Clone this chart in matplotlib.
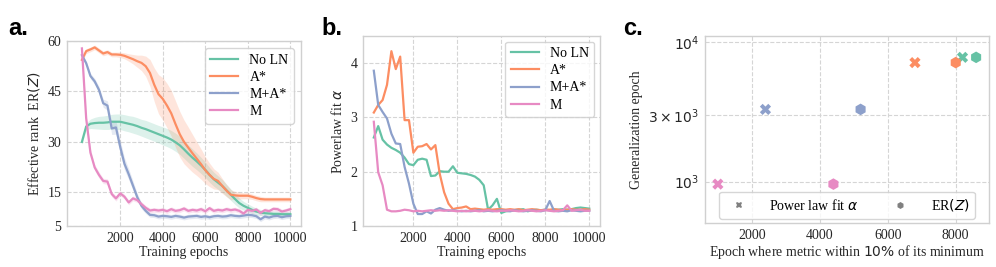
import numpy as np
import matplotlib
matplotlib.use("Agg")
import matplotlib.pyplot as plt
from matplotlib.lines import Line2D

plt.rcParams["font.family"] = ["Liberation Serif", "DejaVu Serif"]
plt.rcParams["mathtext.fontset"] = "dejavusans"
plt.rcParams["font.size"] = 10

# --- data -----------------------------------------------------------------
LABELS = ["No LN", "A*", "M+A*", "M"]
COLORS = ["#66c2a5", "#fc8d62", "#8da0cb", "#e78ac3"]
EPOCHS = np.arange(200, 10001, 200)

# panel a: effective rank ER(Z), mean and spread
er_noln = [30.0, 34.6, 35.4, 35.6, 35.7, 35.7, 35.8, 36.0, 36.0, 36.0,
           35.7, 35.4, 35.1, 34.7, 34.2, 33.8, 33.3, 32.8, 32.3, 31.8,
           31.3, 30.7, 29.9, 29.0, 27.8, 26.5, 25.3, 24.2, 23.0, 21.7,
           20.2, 18.9, 17.9, 16.9, 15.6, 14.3, 13.0, 11.8, 11.0, 10.4,
           9.8, 9.3, 9.0, 8.8, 8.7, 8.6, 8.6, 8.5, 8.5, 8.5]
er_a = [54.4, 57.0, 57.5, 58.1, 57.2, 56.3, 56.7, 56.0, 56.0, 55.9,
        55.6, 55.1, 54.6, 54.0, 53.5, 52.5, 50.5, 47.0, 44.2, 42.8,
        40.8, 38.5, 35.3, 32.3, 30.0, 28.3, 26.6, 25.0, 23.4, 21.6,
        20.2, 19.0, 18.4, 16.9, 15.5, 14.3, 14.1, 14.0, 14.0, 14.0,
        13.7, 13.3, 13.0, 12.9, 12.9, 12.9, 12.9, 12.9, 12.9, 12.9]
er_ma = [55.8, 53.4, 49.6, 48.0, 45.5, 41.5, 40.8, 34.0, 34.3, 28.5,
         23.5, 20.4, 17.0, 13.6, 11.0, 9.5, 8.3, 8.2, 7.8, 8.0,
         7.9, 7.7, 8.0, 7.8, 7.5, 7.8, 7.9, 8.0, 7.7, 7.9,
         7.6, 7.9, 8.0, 7.8, 7.9, 8.2, 8.0, 7.9, 8.1, 8.3,
         8.2, 7.9, 7.0, 7.8, 7.5, 7.9, 8.0, 7.6, 7.9, 8.0]
er_m = [57.8, 37.0, 26.8, 22.4, 20.2, 18.4, 18.2, 14.5, 13.2, 14.7,
        13.7, 12.0, 13.2, 12.7, 11.5, 10.4, 9.6, 9.8, 9.6, 9.8,
        9.4, 10.0, 9.5, 9.7, 10.2, 9.5, 9.8, 9.6, 10.0, 9.4,
        10.3, 9.5, 9.8, 9.6, 10.0, 9.7, 9.9, 9.5, 8.7, 9.8,
        9.5, 9.9, 8.9, 9.7, 9.4, 10.1, 10.0, 9.3, 9.6, 10.0]

sd_noln = [0.6, 1.0, 1.4, 1.7, 1.9, 2.0, 2.1, 2.2, 2.3, 2.3,
           2.4, 2.4, 2.5, 2.5, 2.5, 2.6, 2.6, 2.6, 2.6, 2.7,
           2.7, 2.7, 2.7, 2.7, 2.7, 2.6, 2.6, 2.5, 2.4, 2.3,
           2.2, 2.1, 2.0, 1.9, 1.8, 1.7, 1.6, 1.5, 1.3, 1.2,
           1.1, 1.0, 0.9, 0.8, 0.8, 0.8, 0.8, 0.8, 0.8, 0.8]
sd_a = [0.6, 0.7, 0.7, 0.7, 0.7, 0.7, 0.7, 0.7, 0.7, 0.8,
        0.9, 1.1, 1.4, 1.8, 2.3, 3.0, 4.0, 5.0, 5.8, 6.3,
        6.6, 6.8, 6.9, 6.8, 6.5, 6.1, 5.6, 5.0, 4.5, 4.0,
        3.5, 3.0, 2.6, 2.2, 1.8, 1.5, 1.2, 1.0, 0.9, 0.9,
        0.8, 0.8, 0.8, 0.7, 0.7, 0.7, 0.7, 0.7, 0.7, 0.7]
sd_ma = [0.6, 0.7, 0.8, 0.9, 1.0, 1.2, 1.4, 1.8, 2.0, 2.0,
         1.8, 1.6, 1.4, 1.1, 0.9, 0.8, 0.7, 0.7, 0.7, 0.7,
         0.7, 0.7, 0.7, 0.7, 0.7, 0.7, 0.7, 0.7, 0.7, 0.7,
         0.7, 0.7, 0.7, 0.7, 0.7, 0.7, 0.7, 0.7, 0.7, 0.7,
         0.7, 0.7, 0.7, 0.7, 0.7, 0.7, 0.7, 0.7, 0.7, 0.7]
sd_m = [1.5, 1.2, 1.0, 0.9, 0.9, 0.8, 0.8, 0.8, 0.8, 0.7,
        0.7, 0.7, 0.7, 0.7, 0.7, 0.7, 0.7, 0.7, 0.7, 0.7,
        0.7, 0.7, 0.7, 0.7, 0.7, 0.7, 0.7, 0.7, 0.7, 0.7,
        0.7, 0.7, 0.7, 0.7, 0.7, 0.7, 0.7, 0.7, 0.7, 0.7,
        0.7, 0.7, 0.7, 0.7, 0.7, 0.7, 0.7, 0.7, 0.7, 0.7]

# panel b: power law fit alpha
al_noln = [2.63, 2.84, 2.59, 2.50, 2.44, 2.40, 2.35, 2.26, 2.14, 2.12,
           2.22, 2.24, 2.22, 1.92, 1.93, 2.01, 2.00, 2.00, 2.10, 1.98,
           1.97, 1.96, 1.94, 1.91, 1.85, 1.75, 1.30, 1.38, 1.50, 1.24,
           1.27, 1.28, 1.29, 1.30, 1.31, 1.27, 1.29, 1.30, 1.29, 1.30,
           1.29, 1.30, 1.30, 1.31, 1.30, 1.31, 1.33, 1.34, 1.33, 1.32]
al_a = [3.09, 3.23, 3.32, 3.60, 4.22, 3.89, 4.12, 2.95, 2.95, 2.35,
        2.46, 2.47, 2.51, 2.41, 2.49, 1.96, 1.62, 1.41, 1.31, 1.33,
        1.34, 1.36, 1.31, 1.32, 1.31, 1.30, 1.31, 1.30, 1.31, 1.31,
        1.30, 1.31, 1.30, 1.31, 1.29, 1.30, 1.31, 1.30, 1.29, 1.30,
        1.30, 1.31, 1.30, 1.29, 1.30, 1.31, 1.30, 1.30, 1.31, 1.30]
al_ma = [3.86, 3.23, 3.10, 2.98, 2.70, 2.52, 2.51, 2.09, 1.78, 1.41,
         1.22, 1.22, 1.27, 1.23, 1.30, 1.33, 1.30, 1.28, 1.29, 1.28,
         1.27, 1.28, 1.27, 1.28, 1.29, 1.27, 1.28, 1.27, 1.28, 1.29,
         1.28, 1.27, 1.29, 1.28, 1.27, 1.28, 1.29, 1.28, 1.27, 1.29,
         1.46, 1.28, 1.27, 1.28, 1.27, 1.29, 1.28, 1.27, 1.28, 1.28]
al_m = [2.92, 1.99, 1.75, 1.30, 1.27, 1.27, 1.28, 1.30, 1.29, 1.27,
        1.28, 1.27, 1.28, 1.29, 1.28, 1.29, 1.28, 1.29, 1.28, 1.27,
        1.28, 1.27, 1.28, 1.28, 1.27, 1.28, 1.29, 1.28, 1.27, 1.28,
        1.28, 1.29, 1.28, 1.27, 1.28, 1.29, 1.28, 1.27, 1.28, 1.29,
        1.28, 1.27, 1.28, 1.29, 1.38, 1.28, 1.29, 1.30, 1.28, 1.28]

# panel c: epoch where metric within 10% of min vs generalization epoch
alpha_epoch = [8200, 6800, 2400, 1000]
er_epoch = [8600, 8000, 5200, 4400]
gen_epoch = [7800, 7150, 3300, 960]

GRID = "#d5d5d5"
SPINE = "#d0d0d0"
TXT = "#262626"
FS = 10


def style(ax):
    ax.grid(True, linestyle="--", color=GRID, linewidth=0.8)
    ax.set_axisbelow(True)
    for s in ax.spines.values():
        s.set_color(SPINE)
        s.set_linewidth(1.0)
    ax.tick_params(length=0, pad=4, labelsize=FS, colors=TXT)


def main():
    fig = plt.figure(figsize=(9.96, 2.67), dpi=100)
    ax_a = fig.add_axes([0.0673, 0.1536, 0.2349, 0.6928])
    ax_b = fig.add_axes([0.3645, 0.1536, 0.2379, 0.7116])
    ax_c = fig.add_axes([0.7078, 0.1648, 0.2852, 0.7004])

    # a
    means = [er_noln, er_a, er_ma, er_m]
    sds = [sd_noln, sd_a, sd_ma, sd_m]
    for lab, col, mu, sd in zip(LABELS, COLORS, means, sds):
        mu = np.array(mu)
        sd = np.array(sd)
        ax_a.fill_between(EPOCHS, mu - sd, mu + sd, color=col, alpha=0.22, lw=0)
        ax_a.plot(EPOCHS, mu, color=col, lw=1.6, label=lab)
    ax_a.set_xlim(-500, 10500)
    ax_a.set_ylim(5, 60)
    ax_a.set_yticks([5, 15, 30, 45, 60])
    ax_a.set_xticks([2000, 4000, 6000, 8000, 10000])
    ax_a.set_xlabel("Training epochs", fontsize=FS, color=TXT, labelpad=1)
    ax_a.set_ylabel("Effective rank  ER$(Z)$", fontsize=FS, color=TXT)
    style(ax_a)
    ax_a.legend(loc="upper right", fontsize=FS, frameon=True, edgecolor="#cccccc",
                handlelength=2.0, borderaxespad=0.5, labelspacing=0.3)

    # b
    for lab, col, ys in zip(LABELS, COLORS, [al_noln, al_a, al_ma, al_m]):
        ax_b.plot(EPOCHS, ys, color=col, lw=1.6, label=lab)
    ax_b.set_ylim(1, 4.5)
    ax_b.set_yticks([1, 2, 3, 4])
    ax_b.set_xticks([2000, 4000, 6000, 8000, 10000])
    ax_b.set_xlabel("Training epochs", fontsize=FS, color=TXT, labelpad=1)
    ax_b.set_ylabel(r"Powerlaw fit $\alpha$", fontsize=FS, color=TXT)
    style(ax_b)
    ax_b.legend(loc="upper right", fontsize=FS, frameon=True, edgecolor="#cccccc",
                handlelength=2.0, borderaxespad=0.4, labelspacing=0.3)

    # c
    ax_c.scatter(alpha_epoch, gen_epoch, c=COLORS, marker="X", s=65, lw=0, zorder=3)
    ax_c.scatter(er_epoch, gen_epoch, c=COLORS, marker="h", s=70, lw=0, zorder=3)
    ax_c.set_yscale("log")
    ax_c.set_ylim(505, 11100)
    ax_c.set_yticks([1000, 3000, 10000])
    ax_c.set_yticklabels([r"$10^3$", r"$3\times10^3$", r"$10^4$"])
    ax_c.minorticks_off()
    ax_c.set_xticks([2000, 4000, 6000, 8000])
    ax_c.set_xlabel(r"Epoch where metric within $10\%$ of its minimum", fontsize=FS,
                    color=TXT, labelpad=1)
    ax_c.set_ylabel("Generalization epoch", fontsize=FS, color=TXT)
    style(ax_c)
    handles = [
        Line2D([], [], ls="none", marker="X", color="#808080", ms=5, mew=0),
        Line2D([], [], ls="none", marker="h", color="#808080", ms=5, mew=0),
    ]
    ax_c.legend(handles, [r"Power law fit $\alpha$", "ER$(Z)$"], loc="lower center",
                ncol=2, fontsize=FS, frameon=True, edgecolor="#cccccc",
                columnspacing=2.0, borderaxespad=0.3, handletextpad=1.2)

    for x, t in [(0.008, "a."), (0.323, "b."), (0.626, "c.")]:
        fig.text(x, 0.87, t, fontsize=17, fontweight="bold",
                 family="Liberation Sans", color="black")

    fig.savefig("out.png", dpi=100)
    plt.close(fig)
    return 0


if __name__ == "__main__":
    raise SystemExit(main())
